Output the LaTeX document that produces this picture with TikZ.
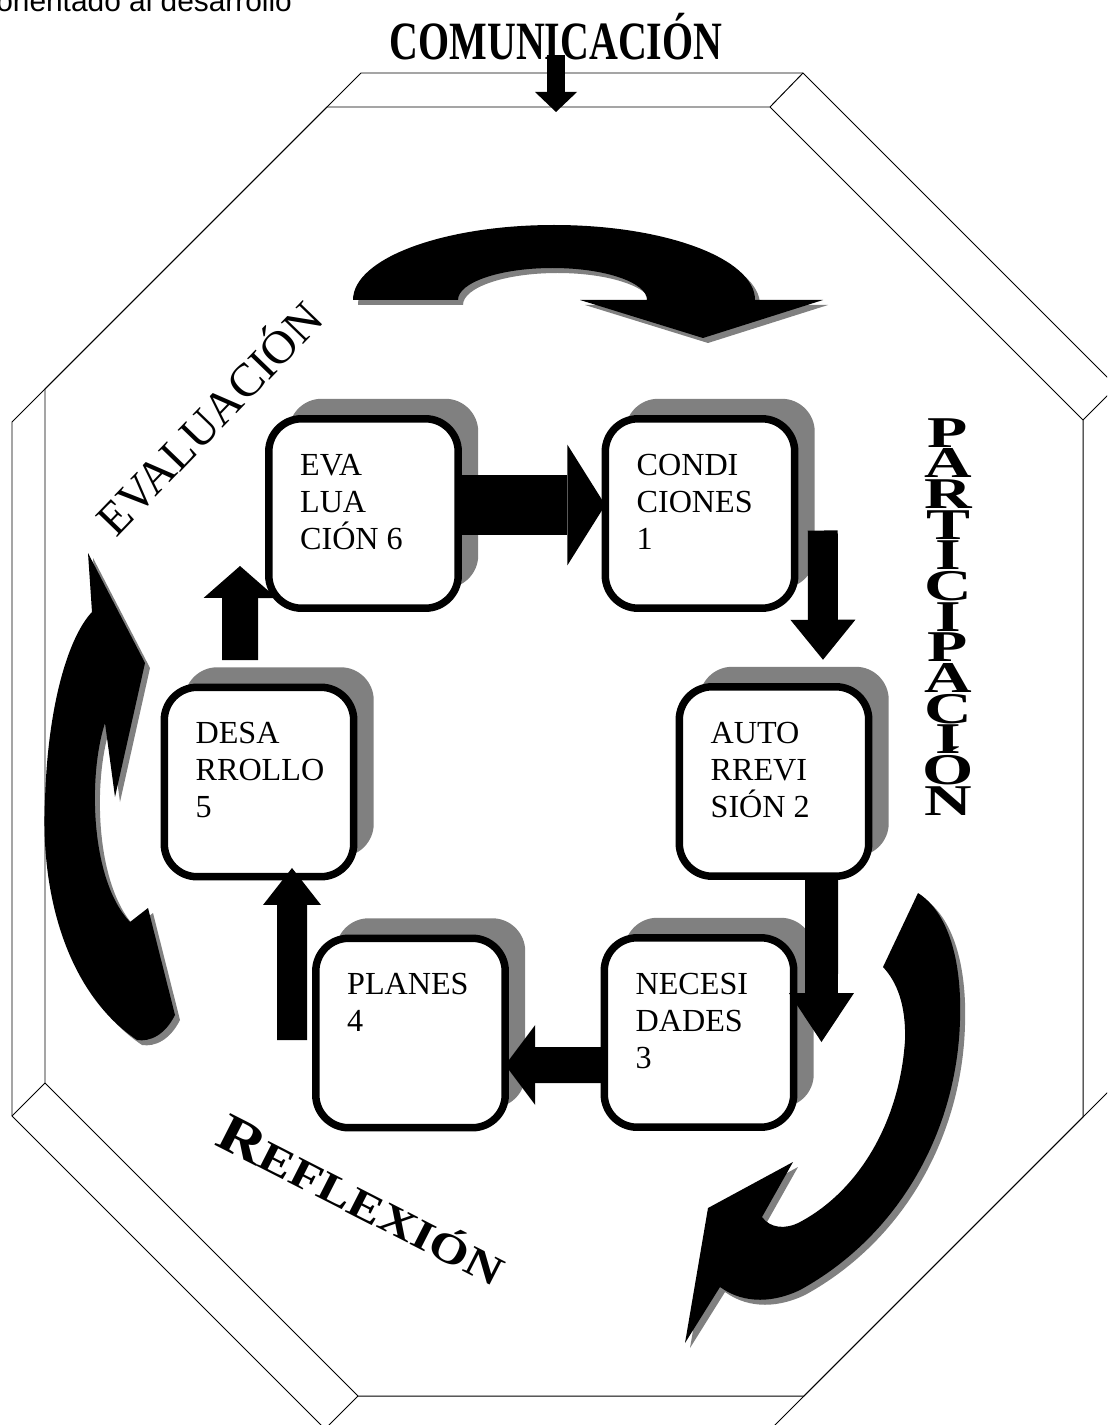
\documentclass[tikz,border=0pt]{standalone}
\usepackage{fontspec}
\setmainfont{Liberation Serif}
\newfontfamily\arialfont{Liberation Sans}
\usetikzlibrary{arrows.meta,shadows}

\tikzset{
  etapa/.style={draw=black, line width=0.15cm, fill=white, rounded corners=0.66cm,
    minimum width=3.79cm, minimum height=3.79cm, inner sep=0pt, outer sep=0pt,
    drop shadow={shadow xshift=0.4cm, shadow yshift=0.4cm, opacity=1, fill=black!50}},
  etapatexto/.style={anchor=north west, inner sep=0pt, align=left,
    font=\fontsize{18.3pt}{21pt}\selectfont},
  flecha/.style n args={3}{line width=#1, -{Triangle[width=#2, length=#3, line width=0pt]}},
  curva/.style={fill=black, drop shadow={shadow xshift=0.1cm, shadow yshift=-0.1cm, opacity=1, fill=black!50}},
  marco/.style={line width=0.55pt},
}

\begin{document}
\begin{tikzpicture}[x=0.02cm, y=-0.02cm]
  \useasboundingbox (0,0) rectangle (1107,1425);
  \clip (0,0) rectangle (1107,1425);

  % Drawing outer octagon
  \draw [marco] (361,73) -- (803,73) -- (1116.5,386.5) -- (1116.5,1083.5) -- (771,1429) -- (325,1429) -- (12,1116) -- (12,422) -- cycle;%

  % Drawing inner octagon
  \draw [marco] (327,107) -- (770,107) -- (1083,420) -- (1083,1117) -- (804,1396) -- (358,1396) -- (45,1083) -- (45,389) -- cycle;%

  % Drawing bevel edges
  \draw [marco] (803,73) -- (770,107);%
  \draw [marco] (1116.5,386.5) -- (1083,420);%
  \draw [marco] (325,1429) -- (358,1396);%
  \draw [marco] (12,1116) -- (45,1083);%

  % Marking header text
  \node [anchor=base west, inner sep=0pt, font=\arialfont\fontsize{17pt}{18pt}\selectfont] (orient) at (-4,12) {orientado al desarrollo};%

  % Marking COMUNICACION
  \node [anchor=base, inner sep=0pt, font=\bfseries\fontsize{30.7pt}{32pt}\selectfont] (com) at (556,60) {\scalebox{0.74}[1]{COMUNICACIÓN}};%
  \coordinate (comtip) at (556,112);
  \draw [flecha={0.36cm}{0.84cm}{0.4cm}] ([yshift=0.1cm]com.base) -- (comtip);%

  % Marking EVALUACION
  \node [rotate=46, inner sep=0pt, font=\fontsize{26.7pt}{28pt}\selectfont] (evaluacion) at (207,416) {EVALUACIÓN};%

  % Marking PARTICIPACION
  \foreach \ch [count=\i from 0] in {P,A,R,T,I,C,I,P,A,C,I,Ó,N}
    \node [anchor=base, inner sep=0pt, font=\bfseries\fontsize{25pt}{26pt}\selectfont] (part\i) at (948,{447+30.67*\i}) {\scalebox{1.5}[1]{\ch}};%

  % Marking REFLEXION
  \node [rotate=-27, inner sep=0pt, font=\bfseries] (reflexion) at (362,1200) {\scalebox{1.22}[1]{{\fontsize{30.7pt}{32pt}\selectfont R}{\fontsize{23.9pt}{26pt}\selectfont EFLEXIÓN}}};%

  % Drawing curved arrow top
  \fill [curva] (353,300) -- (458,300) arc [start angle=180, end angle=360, x radius=94.5, y radius=32] -- (580,300) -- (703,338) -- (823,300) -- (755,300) arc [start angle=0, end angle=-180, x radius=201, y radius=75] -- cycle;%

  % Drawing curved arrow left
  \fill [curva] (88,553) -- (145,663) -- (115,797) -- (105,723) .. controls (88,775) and (90,880) .. (130,922) -- (148,908) -- (175,1015) .. controls (165,1035) and (150,1042) .. (137,1040) .. controls (70,995) and (40,900) .. (45,800) .. controls (48,700) and (70,635) .. (92,612) -- cycle;%

  % Drawing curved arrow right
  \fill [curva] (883,967) -- (918,893) .. controls (948,912) and (962,960) .. (960,1020) .. controls (957,1130) and (900,1235) .. (800,1290) .. controls (775,1302) and (745,1305) .. (720,1287) -- (685,1343) -- (708,1208) -- (793,1162) -- (762,1217) .. controls (770,1228) and (785,1230) .. (800,1222) .. controls (860,1190) and (900,1120) .. (905,1040) .. controls (906,1005) and (897,982) .. (883,967) -- cycle;%

  % Drawing the six stages
  \node [etapa] (e6) at (363.5,513.5) {};%
  \node [etapa] (c1) at (700,513.5) {};%
  \node [etapa] (a2) at (774,781.5) {};%
  \node [etapa] (n3) at (699,1032.5) {};%
  \node [etapa] (p4) at (410.5,1033) {};%
  \node [etapa] (d5) at (259,782) {};%

  \node [etapatexto] (e6t) at ([shift={(31,35)}]e6.north west) {EVA\\LUA\\CIÓN 6};%
  \node [etapatexto] (c1t) at ([shift={(31,35)}]c1.north west) {CONDI\\CIONES\\1};%
  \node [etapatexto] (a2t) at ([shift={(31,35)}]a2.north west) {AUTO\\RREVI\\SIÓN 2};%
  \node [etapatexto] (n3t) at ([shift={(31,35)}]n3.north west) {NECESI\\DADES\\3};%
  \node [etapatexto] (p4t) at ([shift={(31,35)}]p4.north west) {PLANES\\4};%
  \node [etapatexto] (d5t) at ([shift={(31,35)}]d5.north west) {DESA\\RROLLO\\5};%

  % Drawing arrows between stages
  \draw [flecha={1.2cm}{2.42cm}{0.76cm}] ([yshift=0.17cm]e6.east) -- ([yshift=0.17cm]c1.west);%
  \draw [flecha={0.6cm}{1.3cm}{0.8cm}] ([shift={(28,17)}]c1.east) -- ([shift={(49,-27)}]a2.north);%
  \draw [flecha={0.66cm}{1.3cm}{0.98cm}] ([shift={(47.5,0)}]a2.south) -- ([shift={(27.75,9.5)}]n3.east);%
  \draw [flecha={0.72cm}{1.6cm}{0.6cm}] ([shift={(0,32.5)}]n3.west) -- ([shift={(0,32)}]p4.east);%
  \draw [flecha={0.6cm}{1.16cm}{0.74cm}] ([shift={(-23.75,7)}]p4.west) -- ([shift={(33,-8.75)}]d5.south);%
  \draw [flecha={0.72cm}{1.46cm}{0.64cm}] ([shift={(-19,-27.25)}]d5.north) -- ([shift={(-28.75,52.5)}]e6.west);%
\end{tikzpicture}
\end{document}
